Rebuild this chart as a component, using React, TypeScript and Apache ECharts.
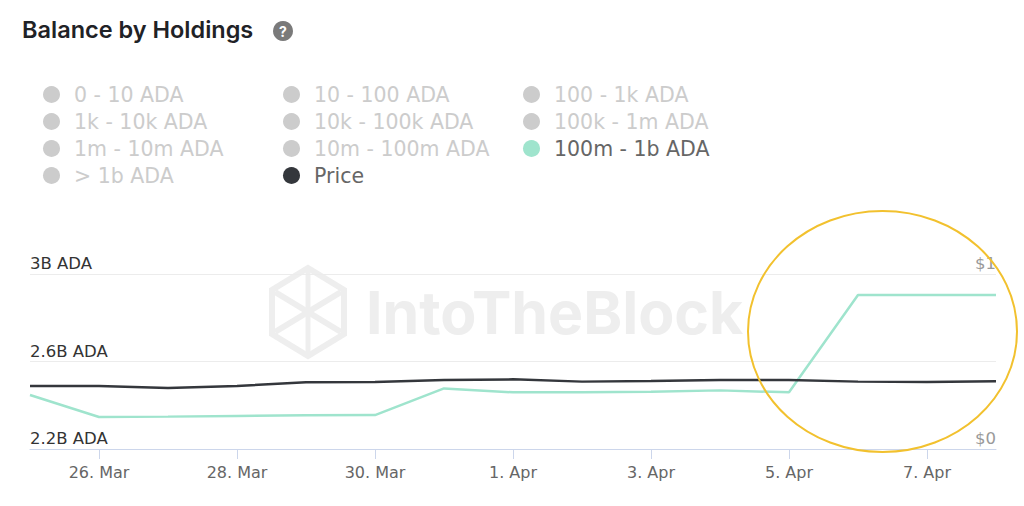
import React, { useEffect, useRef } from "react";
import * as echarts from "echarts";

const dates = [
  "25. Mar", "26. Mar", "27. Mar", "28. Mar", "29. Mar", "30. Mar", "31. Mar",
  "1. Apr", "2. Apr", "3. Apr", "4. Apr", "5. Apr", "6. Apr", "7. Apr", "8. Apr",
];

// 100m - 1b ADA holdings balance (ADA)
const holdings100mTo1b = [
  2.447e9, 2.346e9, 2.348e9, 2.351e9, 2.354e9, 2.355e9, 2.477e9,
  2.459e9, 2.459e9, 2.462e9, 2.468e9, 2.459e9, 2.904e9, 2.904e9, 2.904e9,
];

// ADA price (USD)
const price = [
  0.36, 0.36, 0.349, 0.36, 0.381, 0.383, 0.394,
  0.398, 0.385, 0.389, 0.394, 0.394, 0.385, 0.383, 0.387,
];

const legendNames = [
  "0 - 10 ADA", "10 - 100 ADA", "100 - 1k ADA",
  "1k - 10k ADA", "10k - 100k ADA", "100k - 1m ADA",
  "1m - 10m ADA", "10m - 100m ADA", "100m - 1b ADA",
  "> 1b ADA", "Price",
];

const leftTickLabels = [2.2, 2.6, 3];

const FONT = "'DejaVu Sans', Inter, sans-serif";
const TITLE_FONT = "Inter, 'Noto Sans', sans-serif";

export default function App() {
  const ref = useRef<HTMLDivElement>(null);

  useEffect(() => {
    if (!ref.current) return;
    const chart = echarts.init(ref.current, null, { renderer: "svg" });

    const selected: Record<string, boolean> = {};
    legendNames.forEach((n) => {
      selected[n] = n === "100m - 1b ADA" || n === "Price";
    });

    const series: any[] = legendNames.map((name) => {
      if (name === "100m - 1b ADA") {
        return {
          name,
          type: "line",
          yAxisIndex: 0,
          data: holdings100mTo1b,
          showSymbol: false,
          color: "#9fe4cd",
          lineStyle: { width: 2.5, color: "#9fe4cd" },
          z: 3,
        };
      }
      if (name === "Price") {
        return {
          name,
          type: "line",
          yAxisIndex: 1,
          data: price,
          showSymbol: false,
          color: "#34373c",
          lineStyle: { width: 2.5, color: "#34373c" },
          z: 4,
        };
      }
      return { name, type: "line", yAxisIndex: 0, data: [], showSymbol: false, color: "#cccccc" };
    });

    chart.setOption({
      animation: false,
      textStyle: { fontFamily: FONT },
      title: {
        text: "Balance by Holdings",
        left: 17,
        top: 10,
        textStyle: { fontSize: 23.5, fontWeight: 600, color: "#1f2226", fontFamily: TITLE_FONT, lineHeight: 28 },
      },
      legend: {
        data: legendNames,
        selected,
        left: 43,
        top: 84,
        padding: 0,
        width: 760,
        orient: "horizontal",
        icon: "circle",
        itemWidth: 17,
        itemHeight: 17,
        itemGap: 6,
        inactiveColor: "#cccccc",
        selectedMode: true,
        textStyle: {
          fontSize: 20.5,
          lineHeight: 20,
          color: "#666666",
          fontFamily: FONT,
          width: 203,
          padding: [0, 0, 0, 9],
        },
      },
      grid: { left: 30, right: 28, top: 274, bottom: 57, containLabel: false },
      xAxis: {
        type: "category",
        data: dates,
        boundaryGap: false,
        axisLine: { show: true, lineStyle: { color: "#ccd6eb", width: 1 } },
        axisTick: {
          show: true,
          length: 10,
          interval: (i: number) => i % 2 === 1,
          lineStyle: { color: "#ccd6eb" },
        },
        axisLabel: {
          interval: (i: number) => i % 2 === 1,
          margin: 15,
          fontSize: 16,
          color: "#666666",
          fontFamily: FONT,
        },
        splitLine: { show: false },
      },
      yAxis: [
        {
          type: "value",
          position: "left",
          min: 2.2e9,
          max: 3.0e9,
          interval: 0.2e9,
          axisLine: { show: false },
          axisTick: { show: false },
          splitLine: { show: false },
          axisLabel: {
            inside: true,
            margin: 0,
            align: "left",
            verticalAlign: "bottom",
            padding: [0, 0, 2, 0],
            fontSize: 16.5,
            color: "#333333",
            fontFamily: FONT,
            formatter: (v: number) => {
              const r = Math.round(v / 1e8) / 10;
              return leftTickLabels.indexOf(r) >= 0 ? `${r}B ADA` : "";
            },
          },
        },
        {
          type: "value",
          position: "right",
          min: 0,
          max: 1,
          interval: 0.5,
          axisLine: { show: false },
          axisTick: { show: false },
          splitLine: { show: true, lineStyle: { color: "#ececec", width: 1 } },
          axisLabel: {
            inside: true,
            margin: 0,
            align: "right",
            verticalAlign: "bottom",
            padding: [0, 0, 2, 0],
            fontSize: 16.5,
            color: "#9a9a9a",
            fontFamily: FONT,
            formatter: (v: number) => (v === 0 || v === 1 ? `$${v}` : ""),
          },
        },
      ],
      graphic: [
        {
          type: "group",
          z: 0,
          silent: true,
          children: [
            {
              type: "polygon",
              shape: {
                points: [
                  [308, 268], [344, 290], [344, 334], [308, 356], [272, 334], [272, 290],
                ],
              },
              style: { fill: "none", stroke: "#eeeeee", lineWidth: 6 },
            },
            { type: "line", shape: { x1: 275, y1: 292, x2: 341, y2: 332 }, style: { stroke: "#eeeeee", lineWidth: 6 } },
            { type: "line", shape: { x1: 341, y1: 292, x2: 275, y2: 332 }, style: { stroke: "#eeeeee", lineWidth: 6 } },
            { type: "line", shape: { x1: 308, y1: 270, x2: 308, y2: 354 }, style: { stroke: "#eeeeee", lineWidth: 5 } },
            {
              type: "text",
              x: 366,
              y: 312,
              style: {
                text: "IntoTheBlock",
                fill: "#eeeeee",
                fontSize: 59,
                fontWeight: "bold",
                fontFamily: TITLE_FONT,
                verticalAlign: "middle",
                align: "left",
              },
            },
          ],
        },
        {
          type: "circle",
          shape: { cx: 283, cy: 31, r: 10 },
          style: { fill: "#7a7a7a" },
          z: 10,
        },
        {
          type: "text",
          x: 283,
          y: 31,
          style: {
            text: "?",
            fill: "#ffffff",
            fontSize: 14,
            fontWeight: "bold",
            fontFamily: TITLE_FONT,
            align: "center",
            verticalAlign: "middle",
          },
          z: 11,
        },
        {
          type: "ellipse",
          shape: { cx: 882.5, cy: 331.5, rx: 134.5, ry: 120.5 },
          style: { fill: "none", stroke: "#f2c12e", lineWidth: 2 },
          z: 100,
        },
      ],
      series,
    });

    return () => chart.dispose();
  }, []);

  return (
    <div
      ref={ref}
      style={{ position: "fixed", left: 0, top: 0, width: 1024, height: 506, background: "#ffffff" }}
    />
  );
}
